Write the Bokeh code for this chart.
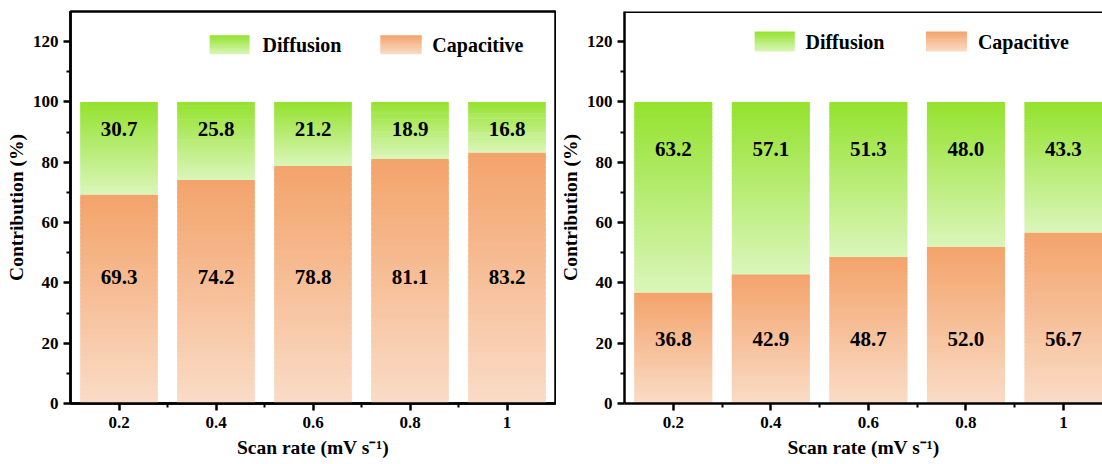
from bokeh.plotting import figure
from bokeh.models import FixedTicker, Label, Span, Range1d
from bokeh.layouts import row
from bokeh.embed import file_html
from bokeh.resources import INLINE
from bokeh.core.properties import value

# ---------------- data ----------------
scan_rates = [0.2, 0.4, 0.6, 0.8, 1.0]
x_tick_labels = ["0.2", "0.4", "0.6", "0.8", "1"]
y_ticks = [0, 20, 40, 60, 80, 100, 120]
y_minor_ticks = [10, 30, 50, 70, 90, 110]
x_minor_ticks = [0.3, 0.5, 0.7, 0.9]

left_capacitive = [69.3, 74.2, 78.8, 81.1, 83.2]
left_diffusion = [30.7, 25.8, 21.2, 18.9, 16.8]
right_capacitive = [36.8, 42.9, 48.7, 52.0, 56.7]
right_diffusion = [63.2, 57.1, 51.3, 48.0, 43.3]

series_names = ["Diffusion", "Capacitive"]
y_title = "Contribution (%)"
x_title = "Scan rate (mV s\u207b\u00b9)"

# ---------------- style ----------------
FONT = "Liberation Serif"
GREEN_TOP = (148, 226, 46)
GREEN_BOT = (218, 246, 186)
ORANGE_TOP = (243, 163, 106)
ORANGE_BOT = (250, 220, 199)
BAR_W = 0.16


def hexc(c):
    return "#%02x%02x%02x" % c


def grad_quads(p, xs, bottoms, tops, width, c_top, c_bot, n=48):
    L, R, B, T, C = [], [], [], [], []
    for x, b, t in zip(xs, bottoms, tops):
        h = (t - b) / n
        for i in range(n):
            f = (i + 0.5) / n
            col = tuple(int(round(cb + (ct - cb) * f)) for ct, cb in zip(c_top, c_bot))
            L.append(x - width / 2)
            R.append(x + width / 2)
            B.append(b + i * h)
            T.append(min(t, b + (i + 1.4) * h))
            C.append(hexc(col))
    p.quad(left=L, right=R, bottom=B, top=T, fill_color=C, line_color=None)


def make_panel(cap, diff, width, border_left, border_right, x_end,
               green_label_y, orange_label_y, leg, outline):
    p = figure(width=width, height=464, x_range=Range1d(0.1, x_end),
               y_range=Range1d(0, 130), output_backend="svg",
               toolbar_location=None, min_border_left=border_left,
               min_border_right=border_right, min_border_top=11,
               min_border_bottom=61, background_fill_color="white",
               border_fill_color="white")
    p.xgrid.visible = False
    p.ygrid.visible = False
    if outline:
        p.outline_line_color = "black"
        p.outline_line_width = 2.5
    else:
        p.outline_line_color = None
        p.add_layout(Span(location=130, dimension="width",
                          line_color="black", line_width=3))

    tops = [c + d for c, d in zip(cap, diff)]
    grad_quads(p, scan_rates, [0] * len(cap), cap, BAR_W, ORANGE_TOP, ORANGE_BOT)
    grad_quads(p, scan_rates, cap, tops, BAR_W, GREEN_TOP, GREEN_BOT)

    common = dict(text_font=value(FONT), text_font_style="bold",
                  text_font_size="21px", text_align="center",
                  text_baseline="middle", text_color="black")
    p.text(x=scan_rates, y=[green_label_y] * len(diff),
           text=["%.1f" % v for v in diff], **common)
    p.text(x=scan_rates, y=[orange_label_y] * len(cap),
           text=["%.1f" % v for v in cap], **common)

    # legend (manual, gradient patches)
    (gx0, gx1, ox0, ox1, ly0, ly1, gtx, otx) = leg
    grad_quads(p, [(gx0 + gx1) / 2], [ly0], [ly1], gx1 - gx0, GREEN_TOP, GREEN_BOT, n=12)
    grad_quads(p, [(ox0 + ox1) / 2], [ly0], [ly1], ox1 - ox0, ORANGE_TOP, ORANGE_BOT, n=12)
    for tx, name in zip([gtx, otx], series_names):
        p.add_layout(Label(x=tx, y=(ly0 + ly1) / 2, text=name, text_align="left",
                           text_baseline="middle", text_font=FONT,
                           text_font_style="bold", text_font_size="20px",
                           text_color="black"))

    # axes
    for ax in (p.xaxis[0], p.yaxis[0]):
        ax.axis_line_width = 2.5
        ax.axis_line_color = "black"
        ax.major_tick_line_width = 2.5
        ax.minor_tick_line_width = 2
        ax.major_tick_out = 7
        ax.major_tick_in = 0
        ax.minor_tick_out = 4
        ax.minor_tick_in = 0
        ax.major_tick_line_color = "black"
        ax.minor_tick_line_color = "black"
        ax.major_label_text_font = FONT
        ax.major_label_text_font_style = "bold"
        ax.major_label_text_font_size = "17px"
        ax.major_label_text_color = "black"
        ax.axis_label_text_font = FONT
        ax.axis_label_text_font_style = "bold"
        ax.axis_label_text_color = "black"
    p.yaxis.ticker = FixedTicker(ticks=y_ticks, minor_ticks=y_minor_ticks)
    p.xaxis.ticker = FixedTicker(ticks=scan_rates, minor_ticks=x_minor_ticks)
    p.xaxis.major_label_overrides = {t: s for t, s in zip(scan_rates, x_tick_labels)}
    p.xaxis.major_label_standoff = 6
    p.yaxis.major_label_standoff = 5
    p.yaxis.axis_label = y_title
    p.yaxis.axis_label_text_font_size = "19.5px"
    p.yaxis.axis_label_standoff = 3
    p.xaxis.axis_label = x_title
    p.xaxis.axis_label_text_font_size = "19.5px"
    p.xaxis.axis_label_standoff = 6
    return p


left = make_panel(left_capacitive, left_diffusion, 556, 70, 1, 1.1,
                  91, 42,
                  (0.387, 0.469, 0.739, 0.824, 115.8, 122.1, 0.496, 0.846),
                  True)
right = make_panel(right_capacitive, right_diffusion, 546, 66, 0, 1.08,
                   84.5, 21.5,
                   (0.367, 0.449, 0.718, 0.802, 116.7, 123.4, 0.471, 0.8245),
                   False)

layout = row(left, right)
open("out.html", "w").write(file_html(layout, INLINE))
